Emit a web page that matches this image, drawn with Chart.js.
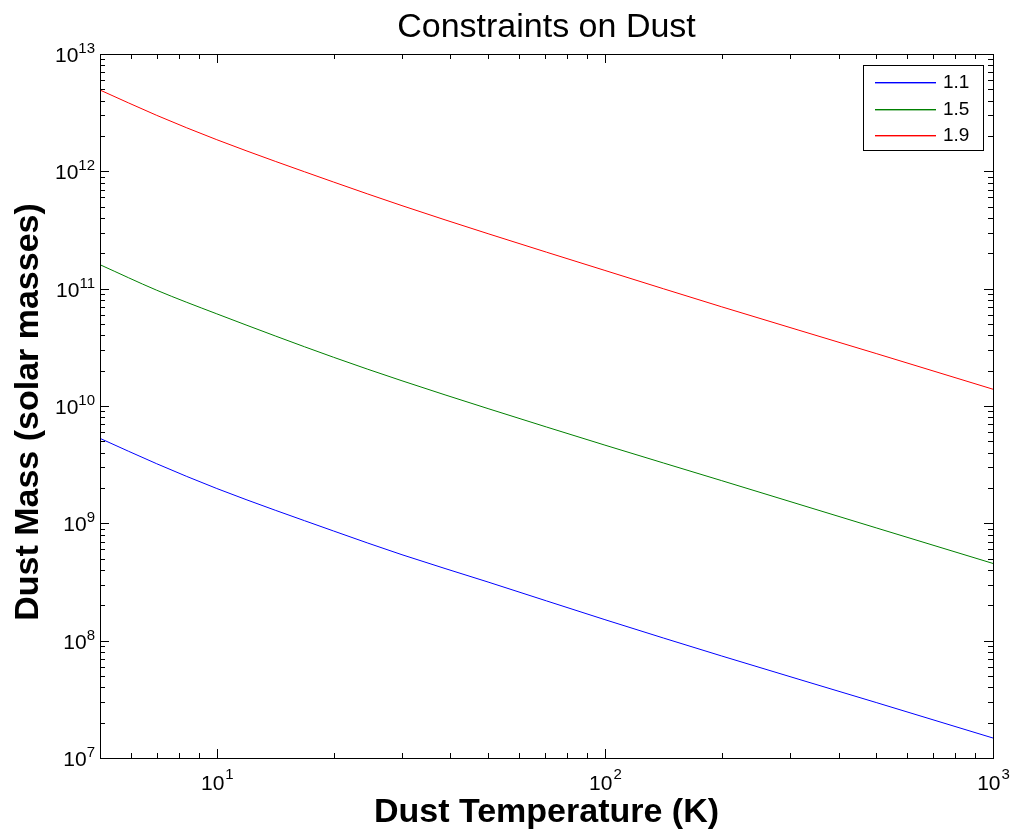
<!DOCTYPE html>
<html>
<head>
<meta charset="utf-8">
<title>Constraints on Dust</title>
<script src="https://cdn.jsdelivr.net/npm/chart.js@4"></script>
<style>
  html, body { margin: 0; padding: 0; background: #fff; }
  canvas { display: block; }
</style>
</head>
<body>
<canvas id="dust" width="1013" height="839"></canvas>
<script>
// dust temperature (K)
const temperatures = [5, 7, 10, 20, 30, 50, 100, 200, 500, 1000];

// dust mass (solar masses)
const mass11 = [5.3e9, 3.22e9, 1.98e9, 8.6e8, 5.4e8, 3.16e8, 1.51e8, 7.4e7, 2.97e7, 1.48e7];
const mass15 = [1.6e11, 9.7e10, 6.1e10, 2.6e10, 1.64e10, 9.5e9, 4.64e9, 2.31e9, 9.15e8, 4.55e8];
const mass19 = [4.93e12, 3.0e12, 1.86e12, 8.1e11, 5.1e11, 2.94e11, 1.43e11, 7.0e10, 2.8e10, 1.39e10];

const seriesLabels = ['1.1', '1.5', '1.9'];
const seriesColors = ['#0000ff', '#008000', '#ff0000'];

const xTicks = [1, 2, 3];           // exponents shown on x
const yTicks = [7, 8, 9, 10, 11, 12, 13];

const FONT = '"Liberation Sans", Arial, Helvetica, sans-serif';

function toPoints(vals) {
  return temperatures.map((t, i) => ({ x: t, y: vals[i] }));
}

// draws the MATLAB-ish frame, ticks, labels and legend
const matlabAxes = {
  id: 'matlabAxes',
  afterDraw(chart) {
    const ctx = chart.ctx;
    const area = chart.chartArea;
    const xs = chart.scales.x;
    const ys = chart.scales.y;
    ctx.save();

    // frame
    ctx.strokeStyle = '#000';
    ctx.lineWidth = 1;
    ctx.strokeRect(area.left + 0.5, area.top + 0.5, area.right - area.left, area.bottom - area.top);

    // inward ticks, both sides
    ctx.beginPath();
    for (let p = 0; p <= 3; p++) {
      for (let m = 1; m <= 9; m++) {
        const v = m * Math.pow(10, p);
        if (v < xs.min || v > xs.max) continue;
        const px = Math.round(xs.getPixelForValue(v)) + 0.5;
        const len = m === 1 ? 9 : 5;
        ctx.moveTo(px, area.bottom);
        ctx.lineTo(px, area.bottom - len);
        ctx.moveTo(px, area.top);
        ctx.lineTo(px, area.top + len);
      }
    }
    for (let p = 7; p <= 13; p++) {
      for (let m = 1; m <= 9; m++) {
        const v = m * Math.pow(10, p);
        if (v < ys.min || v > ys.max) continue;
        const py = Math.round(ys.getPixelForValue(v)) + 0.5;
        const len = m === 1 ? 9 : 5;
        ctx.moveTo(area.left, py);
        ctx.lineTo(area.left + len, py);
        ctx.moveTo(area.right, py);
        ctx.lineTo(area.right - len, py);
      }
    }
    ctx.stroke();

    // tick labels with superscript exponents
    ctx.fillStyle = '#000';
    const big = '21px ' + FONT;
    const small = '15px ' + FONT;
    ctx.textBaseline = 'alphabetic';

    yTicks.forEach(e => {
      const py = ys.getPixelForValue(Math.pow(10, e));
      ctx.font = small;
      const ew = ctx.measureText(String(e)).width;
      ctx.textAlign = 'left';
      ctx.fillText(String(e), area.left - 5 - ew, py - 1);
      ctx.font = big;
      ctx.textAlign = 'right';
      ctx.fillText('10', area.left - 5 - ew, py + 8);
    });

    xTicks.forEach(e => {
      const px = xs.getPixelForValue(Math.pow(10, e));
      ctx.font = big;
      const bw = ctx.measureText('10').width;
      ctx.font = small;
      const ew = ctx.measureText(String(e)).width;
      const start = px - (bw + ew) / 2;
      ctx.font = big;
      ctx.textAlign = 'left';
      ctx.fillText('10', start, area.bottom + 32);
      ctx.font = small;
      ctx.fillText(String(e), start + bw + 1, area.bottom + 21);
    });

    // title and axis titles
    const cx = (area.left + area.right) / 2;
    ctx.textAlign = 'center';
    ctx.font = '34px ' + FONT;
    ctx.fillText('Constraints on Dust', cx, 37);
    ctx.font = 'bold 34px ' + FONT;
    ctx.fillText('Dust Temperature (K)', cx, 822);
    ctx.save();
    ctx.translate(38, (area.top + area.bottom) / 2 + 6);
    ctx.rotate(-Math.PI / 2);
    ctx.fillText('Dust Mass (solar masses)', 0, 0);
    ctx.restore();

    // legend box
    const bx = area.right - 130, by = area.top + 11, bw = 120, bh = 85;
    ctx.fillStyle = '#fff';
    ctx.fillRect(bx, by, bw, bh);
    ctx.strokeStyle = '#000';
    ctx.lineWidth = 1;
    ctx.strokeRect(bx + 0.5, by + 0.5, bw, bh);
    ctx.font = '19px ' + FONT;
    ctx.textAlign = 'left';
    ctx.textBaseline = 'middle';
    chart.data.datasets.forEach((ds, i) => {
      const ry = Math.round(by + 17 + i * 26.7);
      ctx.fillStyle = seriesColors[i];
      ctx.fillRect(bx + 12, ry, 61, 1.4);
      ctx.fillStyle = '#000';
      ctx.fillText(ds.label, bx + 80, ry + 1);
    });

    ctx.restore();
  }
};

new Chart(document.getElementById('dust'), {
  type: 'line',
  data: {
    datasets: [mass11, mass15, mass19].map((vals, i) => ({
      label: seriesLabels[i],
      data: toPoints(vals),
      borderColor: seriesColors[i],
      backgroundColor: seriesColors[i],
      borderWidth: 1,
      pointRadius: 0,
      cubicInterpolationMode: 'monotone',
      fill: false
    }))
  },
  options: {
    responsive: false,
    devicePixelRatio: 1,
    animation: false,
    layout: { padding: { left: 100, right: 20, top: 54, bottom: 81 } },
    plugins: {
      legend: { display: false },
      title: { display: false },
      tooltip: { enabled: false }
    },
    scales: {
      x: {
        type: 'logarithmic',
        min: 5,
        max: 1000,
        ticks: { display: false },
        grid: { display: false },
        border: { display: false },
        afterFit: s => { s.height = 0; }
      },
      y: {
        type: 'logarithmic',
        min: 1e7,
        max: 1e13,
        ticks: { display: false },
        grid: { display: false },
        border: { display: false },
        afterFit: s => { s.width = 0; }
      }
    }
  },
  plugins: [matlabAxes]
});
</script>
</body>
</html>
